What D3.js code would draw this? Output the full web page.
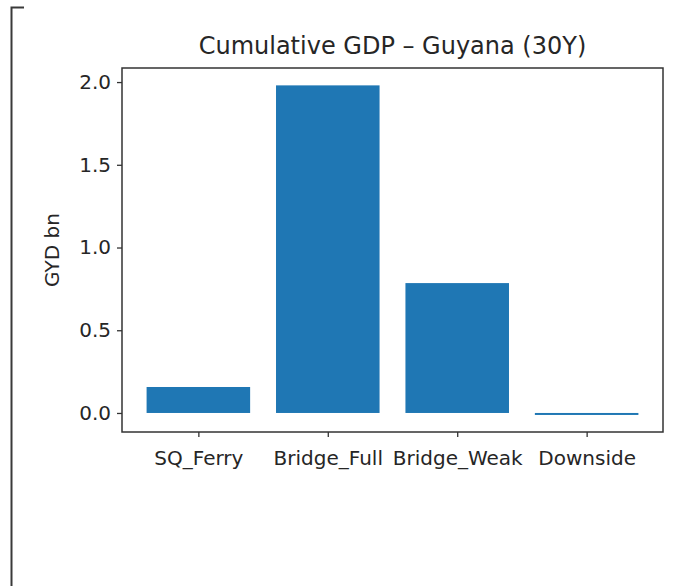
<!DOCTYPE html>
<html>
<head>
<meta charset="utf-8">
<script src="https://cdn.jsdelivr.net/npm/d3@7/dist/d3.min.js"></script>
<style>
  html, body { margin: 0; padding: 0; background: #ffffff; }
  svg { display: block; font-family: "DejaVu Sans", sans-serif; }
</style>
</head>
<body>
<svg id="chart" width="680" height="586"></svg>
<script>
const categories = ["SQ_Ferry", "Bridge_Full", "Bridge_Weak", "Downside"];
const values = [0.157, 1.98, 0.785, -0.012];
const yTicks = [0.0, 0.5, 1.0, 1.5, 2.0];
const titleText = "Cumulative GDP \u2013 Guyana (30Y)";
const yLabelText = "GYD bn";

const svg = d3.select("#chart");
const plot = { left: 122, right: 663, top: 68, bottom: 432 };
const axisColor = "#333333";

// left bracket decoration
svg.append("path")
  .attr("d", "M24,7.5 H11.5 V586")
  .attr("fill", "none")
  .attr("stroke", "#3a3a3a")
  .attr("stroke-width", 2);

const x = d3.scaleLinear().domain([-0.59, 3.59]).range([plot.left, plot.right]);
const y = d3.scaleLinear().domain([-0.115, 2.085]).range([plot.bottom, plot.top]);
const barW = x(0.8) - x(0);

// bars
svg.append("g").selectAll("rect")
  .data(categories.map((c, i) => ({ c, i, v: values[i] })))
  .join("rect")
  .attr("x", d => x(d.i) - barW / 2)
  .attr("width", barW)
  .attr("y", d => Math.min(y(d.v), y(0)))
  .attr("height", d => Math.max(1.5, Math.abs(y(d.v) - y(0))))
  .attr("fill", "#1f77b4");

// y axis
const yAxis = d3.axisLeft(y).tickValues(yTicks).tickFormat(d3.format(".1f")).tickSize(5).tickPadding(6);
const gy = svg.append("g").attr("transform", `translate(${plot.left},0)`).call(yAxis);
gy.select(".domain").remove();
gy.selectAll("line").attr("stroke", axisColor).attr("stroke-width", 1.3);
gy.selectAll("text").attr("font-size", 20).attr("fill", "#262626").attr("font-family", "DejaVu Sans");

// x axis
const xAxis = d3.axisBottom(x).tickValues(d3.range(categories.length)).tickFormat(i => categories[i]).tickSize(5).tickPadding(14);
const gx = svg.append("g").attr("transform", `translate(0,${plot.bottom})`).call(xAxis);
gx.select(".domain").remove();
gx.selectAll("line").attr("stroke", axisColor).attr("stroke-width", 1.3);
gx.selectAll("text").attr("font-size", 20).attr("fill", "#262626").attr("font-family", "DejaVu Sans");

// frame
svg.append("rect")
  .attr("x", plot.left).attr("y", plot.top)
  .attr("width", plot.right - plot.left).attr("height", plot.bottom - plot.top)
  .attr("fill", "none").attr("stroke", axisColor).attr("stroke-width", 1.5);

// title
svg.append("text")
  .attr("x", (plot.left + plot.right) / 2).attr("y", 54)
  .attr("text-anchor", "middle")
  .attr("font-size", 24).attr("fill", "#262626")
  .text(titleText);

// y label
svg.append("text")
  .attr("transform", `translate(59,${(plot.top + plot.bottom) / 2}) rotate(-90)`)
  .attr("text-anchor", "middle")
  .attr("font-size", 20).attr("fill", "#262626")
  .text(yLabelText);
</script>
</body>
</html>
